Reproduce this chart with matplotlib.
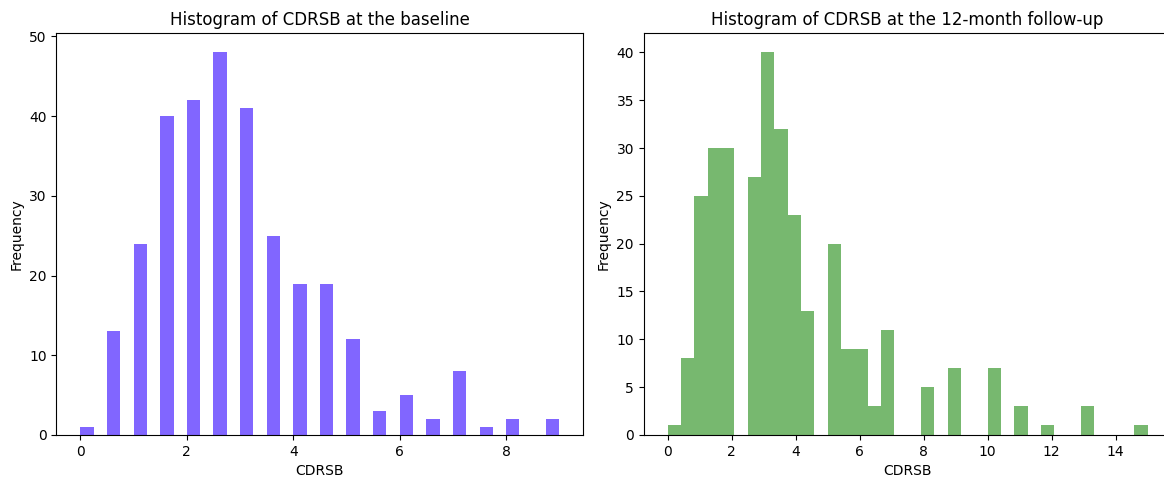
import numpy as np
import matplotlib
matplotlib.use('Agg')
import matplotlib.pyplot as plt

# Valores de CDRSB y sus frecuencias
baseline_values = [0, 0.5, 1.0, 1.5, 2.0, 2.5, 3.0, 3.5, 4.0, 4.5,
                   5.0, 5.5, 6.0, 6.5, 7.0, 7.5, 8.0, 9.0]
baseline_counts = [1, 13, 24, 40, 42, 48, 41, 25, 19, 19,
                   12, 3, 5, 2, 8, 1, 2, 2]

followup_values = [0, 0.5, 1.0, 1.5, 2.0, 2.5, 3.0, 3.5, 4.0, 4.5,
                   5.0, 5.5, 6.0, 6.5, 7.0, 8.0, 9.0, 10.0, 11.0, 12.0,
                   13.0, 15.0]
followup_counts = [1, 8, 25, 30, 30, 27, 40, 32, 23, 13,
                   20, 9, 9, 3, 11, 5, 7, 7, 3, 1,
                   3, 1]

n_bins = 36


def graphics():
    fig = plt.figure(figsize=(11.64, 4.8), dpi=100)
    ax1 = fig.add_axes([0.0485, 0.0938, 0.4526, 0.837])
    # el panel derecho queda cortado por el borde de la imagen
    ax2 = fig.add_axes([0.553, 0.0938, 0.4535, 0.837])

    ax1.hist(baseline_values, bins=n_bins, weights=baseline_counts,
             color='#8166ff')
    ax1.set_title('Histogram of CDRSB at the baseline')
    ax1.set_xlabel('CDRSB')
    ax1.set_ylabel('Frequency')

    ax2.hist(followup_values, bins=n_bins, weights=followup_counts,
             color='#77b86f')
    ax2.set_title('Histogram of CDRSB at the 12-month follow-up')
    ax2.set_xlabel('CDRSB')
    ax2.set_ylabel('Frequency')

    fig.savefig('out.png', dpi=100)


if __name__ == '__main__':
    graphics()
